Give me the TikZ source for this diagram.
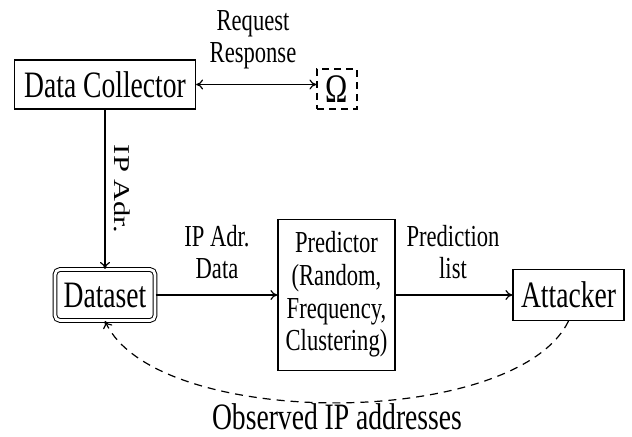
\documentclass[tikz,border=0pt]{standalone}
\usepackage{fontspec}
\setmainfont{Liberation Serif}
\usetikzlibrary{arrows.meta}
\newcommand{\vst}[1]{\scalebox{1}[1.35]{#1}}
\newcommand{\mlines}[1]{\vst{\begin{tabular}{@{}c@{}}#1\end{tabular}}}
\tikzset{
  box/.style={draw, line width=0.6pt, inner sep=0pt, font=\fontsize{13.8}{12.2}\selectfont},
  lbl/.style={inner sep=0pt, font=\fontsize{11.3}{11.9}\selectfont},
  conn/.style={line width=0.6pt, -{To[length=3.5pt,width=5pt]}},
}
\begin{document}
\begin{tikzpicture}[x=0.5pt,y=-0.5pt]
\useasboundingbox (0,0) rectangle (632,437);
\node[box, minimum width=90.5pt, minimum height=24.5pt] (dc) at (105,84.5) {\vst{Data Collector}};
\node[box, dashed, dash pattern=on 3.5pt off 2.5pt, minimum width=20pt, minimum height=20pt, font=\fontsize{15}{15}\selectfont] (om) at (337,89) {\vst{Ω}};
\node[box, line width=0.5pt, double, double distance=1.4pt, rounded corners=2.5pt, minimum width=50pt, minimum height=25.5pt] (ds) at (105,295) {\vst{Dataset}};
\node[box, minimum width=58.5pt, minimum height=75.5pt, font=\fontsize{11.3}{12.2}\selectfont] (pr) at (336.5,295) {\mlines{Predictor\\(Random,\\Frequency,\\Clustering)}};
\node[box, minimum width=55.5pt, minimum height=25.5pt] (at) at (568.5,295) {\vst{Attacker}};

\node[lbl] (l1) at (253,40) {\mlines{Request\\Response}};
\node[lbl] (l2) at (217,256) {\mlines{IP Adr.\\Data}};
\node[lbl] (l3) at (453,256) {\mlines{Prediction\\list}};
\node[lbl, rotate=-90] (l4) at (122,189) {\scalebox{1.35}[1]{IP Adr.}};
\node[inner sep=0pt, font=\fontsize{13.8}{14}\selectfont] (l5) at (337,417) {\vst{Observed IP addresses}};

\draw[conn, {To[length=3.5pt,width=5pt]}-{To[length=3.5pt,width=5pt]}] (dc.east) -- (dc.east -| om.west);
\draw[conn] (dc.south) -- (ds.north);
\draw[conn] (ds.east) -- (pr.west);
\draw[conn] (pr.east) -- (at.west);
\draw[conn, dash pattern=on 4pt off 3pt] (at.south) .. controls (515,430) and (155,430) .. (ds.south);
\end{tikzpicture}
\end{document}
